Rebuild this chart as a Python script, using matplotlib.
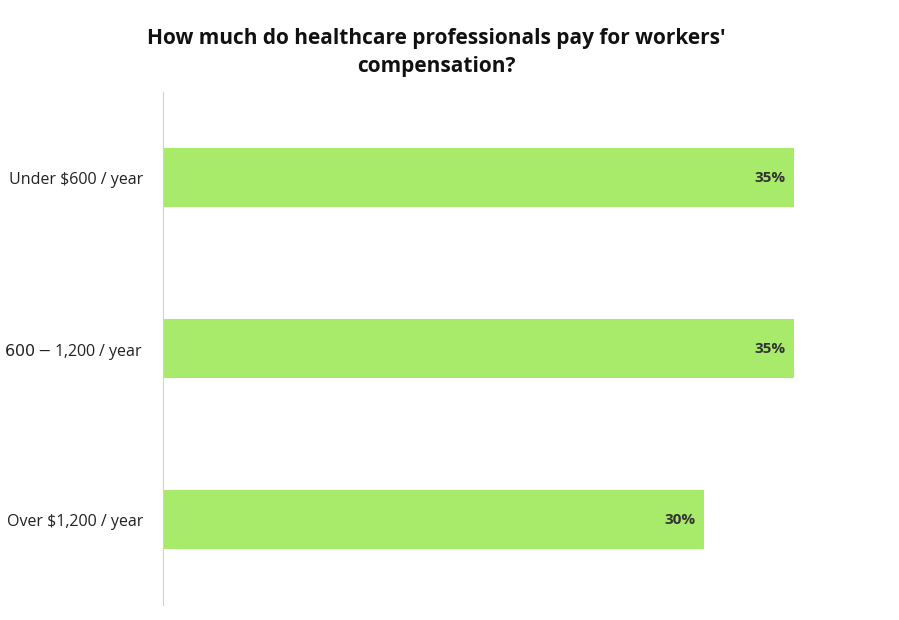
import matplotlib
matplotlib.use("Agg")
import matplotlib.pyplot as plt

categories = ["Under $600 / year", "$600-$1,200 / year", "Over $1,200 / year"]
values = [35, 35, 30]
labels = ["35%", "35%", "30%"]

plt.rcParams["font.family"] = "Open Sans"
W, H = 899, 620
fig = plt.figure(figsize=(W/100, H/100), dpi=100)
ax = fig.add_axes([163/W, 1-605/H, (794-163)/W, (605-92)/H])
y = list(range(len(categories)))
ax.barh(y, values, height=0.35, color="#a8ea6a")
ax.set_xlim(0, 35)
ax.set_ylim(2.5, -0.5)
ax.set_yticks(y)
ax.set_yticklabels(categories, fontsize=11.5, color="#222222")
ax.tick_params(axis="y", length=0, pad=14)
ax.set_xticks([])
for s in ["top", "right", "bottom"]:
    ax.spines[s].set_visible(False)
ax.spines["left"].set_color("#d0d0d0")
for yi, v, l in zip(y, values, labels):
    ax.text(v - 0.45, yi, l, ha="right", va="center", fontsize=11, fontweight="bold", color="#333333")
fig.text(0.485, 1-28/H, "How much do healthcare professionals pay for workers'\ncompensation?",
         ha="center", va="top", fontsize=15, fontweight="bold", color="#111111", linespacing=1.45)
fig.savefig("out.png", dpi=100, facecolor="white")
